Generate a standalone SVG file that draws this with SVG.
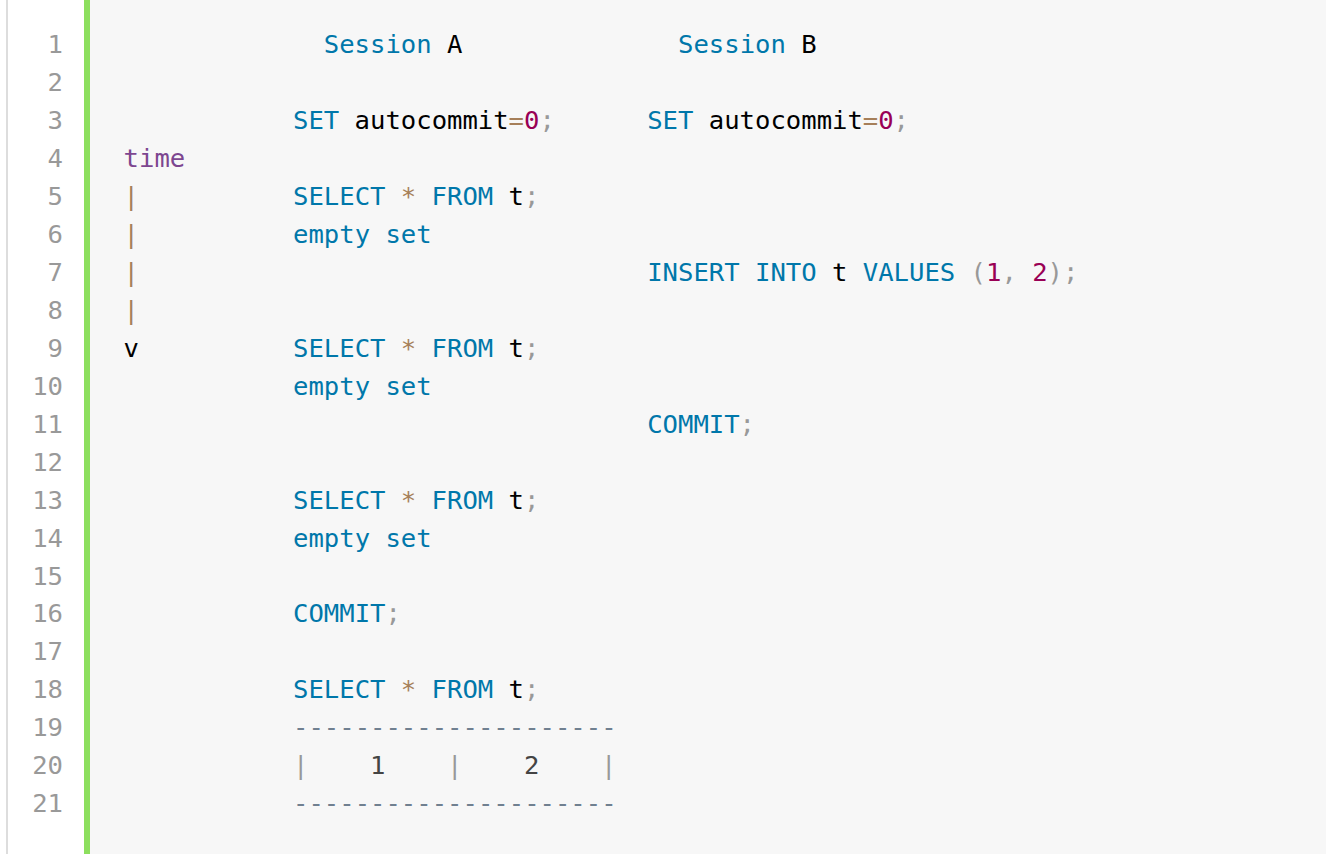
<svg xmlns="http://www.w3.org/2000/svg" width="1326" height="854" viewBox="0 0 1326 854">
<style>
text{font-family:"DejaVu Sans Mono","Liberation Mono",monospace;font-size:25.6px;fill:#000}
.ln{fill:#999;text-anchor:end}
.k{fill:#07a}
.o{fill:#a67f59}
.n{fill:#905}
.p{fill:#999}
.c{fill:#708090}
.f{fill:#7d4690}
.d{fill:#444}
</style>
<rect x="0" y="0" width="1326" height="854" fill="#ffffff"/>
<rect x="6" y="0" width="2" height="854" fill="#dddddd"/>
<rect x="90" y="0" width="1236" height="854" fill="#f7f7f7"/>
<rect x="84" y="0" width="6" height="854" fill="#8ddf5e"/>
<g id="gutter">
<text class="ln" x="63" y="53">1</text>
<text class="ln" x="63" y="91">2</text>
<text class="ln" x="63" y="129">3</text>
<text class="ln" x="63" y="167">4</text>
<text class="ln" x="63" y="205">5</text>
<text class="ln" x="63" y="243">6</text>
<text class="ln" x="63" y="281">7</text>
<text class="ln" x="63" y="319">8</text>
<text class="ln" x="63" y="357">9</text>
<text class="ln" x="63" y="394.5">10</text>
<text class="ln" x="63" y="432.5">11</text>
<text class="ln" x="63" y="470.5">12</text>
<text class="ln" x="63" y="508.5">13</text>
<text class="ln" x="63" y="546.5">14</text>
<text class="ln" x="63" y="584.5">15</text>
<text class="ln" x="63" y="622">16</text>
<text class="ln" x="63" y="660">17</text>
<text class="ln" x="63" y="698">18</text>
<text class="ln" x="63" y="736">19</text>
<text class="ln" x="63" y="774">20</text>
<text class="ln" x="63" y="812">21</text>
</g>
<g id="code">
<text y="53"><tspan class="k" x="323.8">Session</tspan><tspan x="447">A</tspan><tspan class="k" x="678">Session</tspan><tspan x="801.2">B</tspan></text>
<text y="129"><tspan class="k" x="293">SET</tspan><tspan x="354.6">autocommit</tspan><tspan class="o" x="508.6">=</tspan><tspan class="n" x="524">0</tspan><tspan class="p" x="539.4">;</tspan><tspan class="k" x="647.2">SET</tspan><tspan x="708.8">autocommit</tspan><tspan class="o" x="862.8">=</tspan><tspan class="n" x="878.2">0</tspan><tspan class="p" x="893.6">;</tspan></text>
<text y="167"><tspan class="f" x="123.6">time</tspan></text>
<text y="205"><tspan class="o" x="123.6">|</tspan><tspan class="k" x="293">SELECT</tspan><tspan class="o" x="400.8">*</tspan><tspan class="k" x="431.6">FROM</tspan><tspan x="508.6">t</tspan><tspan class="p" x="524">;</tspan></text>
<text y="243"><tspan class="o" x="123.6">|</tspan><tspan class="k" x="293">empty</tspan><tspan class="k" x="385.4">set</tspan></text>
<text y="281"><tspan class="o" x="123.6">|</tspan><tspan class="k" x="647.2">INSERT</tspan><tspan class="k" x="755">INTO</tspan><tspan x="832">t</tspan><tspan class="k" x="862.8">VALUES</tspan><tspan class="p" x="970.6">(</tspan><tspan class="n" x="986">1</tspan><tspan class="p" x="1001.4">,</tspan><tspan class="n" x="1032.2">2</tspan><tspan class="p" x="1047.6">)</tspan><tspan class="p" x="1063">;</tspan></text>
<text y="319"><tspan class="o" x="123.6">|</tspan></text>
<text y="357"><tspan x="123.6">v</tspan><tspan class="k" x="293">SELECT</tspan><tspan class="o" x="400.8">*</tspan><tspan class="k" x="431.6">FROM</tspan><tspan x="508.6">t</tspan><tspan class="p" x="524">;</tspan></text>
<text y="394.5"><tspan class="k" x="293">empty</tspan><tspan class="k" x="385.4">set</tspan></text>
<text y="432.5"><tspan class="k" x="647.2">COMMIT</tspan><tspan class="p" x="739.6">;</tspan></text>
<text y="508.5"><tspan class="k" x="293">SELECT</tspan><tspan class="o" x="400.8">*</tspan><tspan class="k" x="431.6">FROM</tspan><tspan x="508.6">t</tspan><tspan class="p" x="524">;</tspan></text>
<text y="546.5"><tspan class="k" x="293">empty</tspan><tspan class="k" x="385.4">set</tspan></text>
<text y="622"><tspan class="k" x="293">COMMIT</tspan><tspan class="p" x="385.4">;</tspan></text>
<text y="698"><tspan class="k" x="293">SELECT</tspan><tspan class="o" x="400.8">*</tspan><tspan class="k" x="431.6">FROM</tspan><tspan x="508.6">t</tspan><tspan class="p" x="524">;</tspan></text>
<text y="736" class="c" x="293">---------------------</text>
<text y="774"><tspan class="p" x="293">|</tspan><tspan class="d" x="370">1</tspan><tspan class="p" x="447">|</tspan><tspan class="d" x="524">2</tspan><tspan class="p" x="601">|</tspan></text>
<text y="812" class="c" x="293">---------------------</text>
</g>
</svg>
